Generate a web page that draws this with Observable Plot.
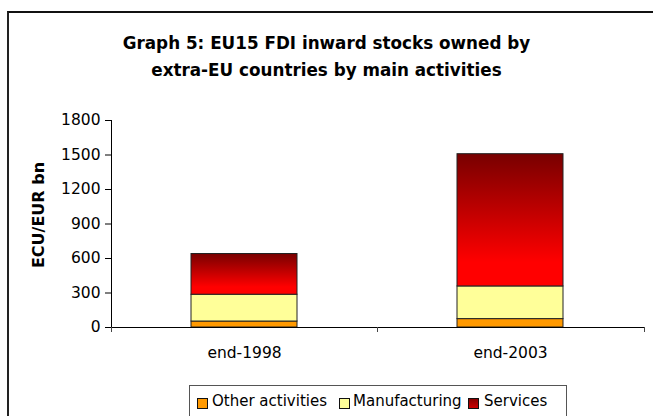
<!DOCTYPE html>
<html>
<head>
<meta charset="utf-8">
<script src="https://cdn.jsdelivr.net/npm/d3@7"></script>
<script src="https://cdn.jsdelivr.net/npm/@observablehq/plot@0.6"></script>
<style>
  html, body { margin: 0; padding: 0; background: #fff; }
  body { width: 653px; height: 416px; overflow: hidden; position: relative; font-family: "DejaVu Sans", sans-serif; }
  #frame { position: absolute; left: 7px; top: 11px; width: 660px; height: 420px; border-top: 2px solid #111; border-left: 2px solid #222; box-sizing: border-box; }
  #chart { position: absolute; left: 0; top: 0; }
  #title { position: absolute; left: 0; top: 30px; width: 653px; text-align: center; font-weight: bold; font-size: 16.8px; line-height: 27px; color: #000; }
  #ylabel { position: absolute; left: 38px; top: 215px; transform: translate(-50%, -50%) rotate(-90deg); font-weight: bold; font-size: 16px; white-space: nowrap; color: #000; }
  #legend { position: absolute; left: 189px; top: 385px; width: 378px; height: 40px; border: 1px solid #555; box-sizing: border-box; font-size: 15px; color: #000; }
  .sw { position: absolute; top: 12px; width: 9px; height: 9px; border: 1px solid #111; box-sizing: content-box; }
  .lt { position: absolute; top: 6px; white-space: nowrap; line-height: 18px; }
</style>
</head>
<body>
<svg width="0" height="0" style="position:absolute">
  <defs>
    <linearGradient id="svcGrad" x1="0" y1="0" x2="0" y2="1">
      <stop offset="0" stop-color="#780000"/>
      <stop offset="0.82" stop-color="#ff0000"/>
      <stop offset="1" stop-color="#ff0000"/>
    </linearGradient>
  </defs>
</svg>
<div id="frame"></div>
<div id="chart"></div>
<div id="title">Graph 5: EU15 FDI inward stocks owned by<br>extra-EU countries by main activities</div>
<div id="ylabel">ECU/EUR bn</div>
<div id="legend"></div>
<script>
// ---- data ----
const categories = ["end-1998", "end-2003"];
const seriesNames = ["Other activities", "Manufacturing", "Services"];
const otherActivities = [52, 73];
const manufacturing = [233, 284];
const services = [354, 1150];
const yTicks = [0, 300, 600, 900, 1200, 1500, 1800];
const seriesColors = ["#ff9900", "#ffff99", "url(#svcGrad)"];
const legendColors = ["#ff9900", "#ffff99", "linear-gradient(#880000, #cc0000)"];

const seriesValues = [otherActivities, manufacturing, services];
const rows = [];
categories.forEach((c, i) => {
  seriesNames.forEach((s, j) => rows.push({category: c, series: s, value: seriesValues[j][i]}));
});

function axisLines(index, scales, values, dims) {
  const x = scales.x, y = scales.y;
  const bw = x.bandwidth ? x.bandwidth() : 0;
  const left = dims.marginLeft, right = dims.width - dims.marginRight;
  const mid = (x(categories[0]) + bw + x(categories[1])) / 2;
  const y0 = y(0), yTop = y(yTicks[yTicks.length - 1]);
  const g = d3.create("svg:g").attr("stroke", "#000").attr("stroke-width", 1).attr("shape-rendering", "crispEdges");
  g.append("line").attr("x1", left).attr("x2", left).attr("y1", yTop).attr("y2", y0);
  for (const xv of [left, mid, right]) {
    g.append("line").attr("x1", xv).attr("x2", xv).attr("y1", y0).attr("y2", y0 + 5).attr("stroke", "#444");
  }
  return g.node();
}

const plot = Plot.plot({
  width: 653,
  height: 416,
  marginTop: 120,
  marginBottom: 89,
  marginLeft: 111,
  marginRight: 9,
  style: {fontFamily: "DejaVu Sans", fontSize: "15.5px", color: "#000", background: "transparent"},
  x: {domain: categories, paddingInner: 0.6, paddingOuter: 0.3},
  y: {domain: [0, 1800]},
  color: {domain: seriesNames, range: seriesColors},
  marks: [
    Plot.barY(rows, {x: "category", y: "value", fill: "series", stroke: "#222", strokeWidth: 1}),
    Plot.ruleY([0], {stroke: "#000"}),
    axisLines,
    Plot.axisY({ticks: yTicks, tickSize: 6, tickPadding: 5, label: null, tickFormat: d => String(d)}),
    Plot.axisX({tickSize: 0, tickPadding: 19, label: null})
  ]
});
document.getElementById("chart").appendChild(plot);

// legend
const legend = document.getElementById("legend");
const swLeft = [7, 149, 278];
const txLeft = [22, 163, 294];
seriesNames.forEach((s, j) => {
  const sw = document.createElement("div");
  sw.className = "sw";
  sw.style.left = swLeft[j] + "px";
  sw.style.background = legendColors[j];
  legend.appendChild(sw);
  const t = document.createElement("div");
  t.className = "lt";
  t.style.left = txLeft[j] + "px";
  t.textContent = s;
  legend.appendChild(t);
});
</script>
</body>
</html>
